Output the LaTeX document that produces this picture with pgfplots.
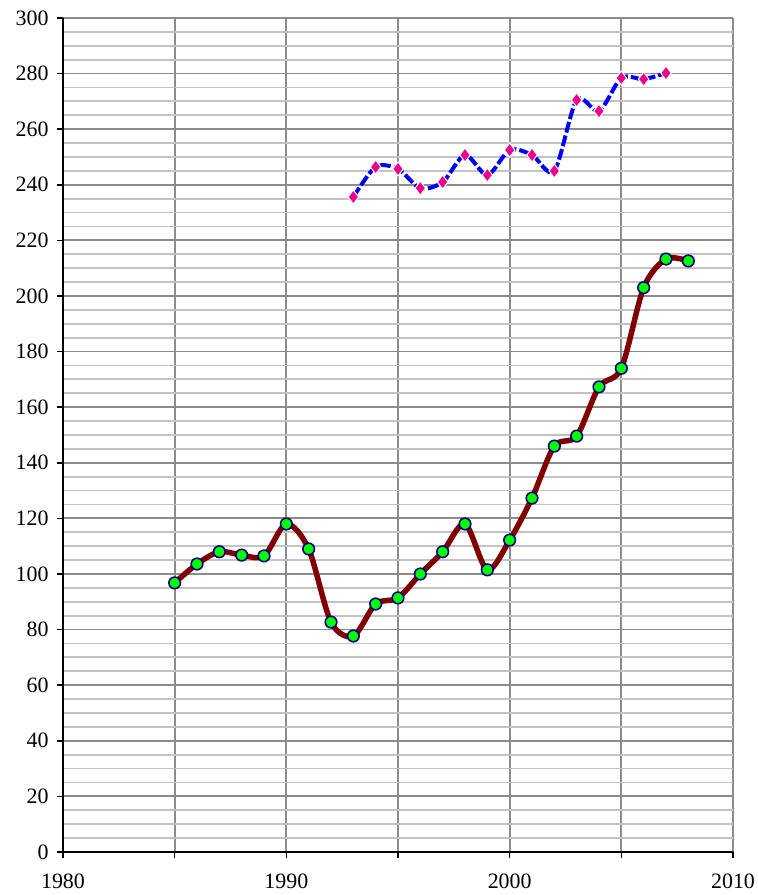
\documentclass[border=0pt]{standalone}
\usepackage{fontspec}
\setmainfont{Liberation Serif}
\usepackage{pgfplots}
\pgfplotsset{compat=1.18}
\definecolor{darkred}{RGB}{128,0,0}
\definecolor{navy}{RGB}{0,0,128}
\definecolor{majgrid}{RGB}{140,140,140}
\definecolor{mingrid}{RGB}{195,195,195}
\begin{document}
\begin{tikzpicture}[x=1bp,y=1bp]
\useasboundingbox (-63bp,-43bp) rectangle (695bp,852bp);
\begin{axis}[
  at={(0,0)}, anchor=south west,
  scale only axis, width=670bp, height=834bp,
  xmin=1980, xmax=2010, ymin=0, ymax=300,
  axis x line*=bottom, axis y line*=left,
  axis line style={black, line width=2bp, -},
  xtick={1980,1985,...,2010},
  xticklabels={1980,,1990,,2000,,2010},
  ytick={0,20,...,300},
  minor y tick num=3,
  tick align=outside,
  major tick length=6bp, minor tick length=0bp,
  tick style={black, line width=1.5bp},
  grid=both,
  major grid style={majgrid, line width=1.8bp},
  minor grid style={mingrid, line width=1.8bp},
  /pgf/number format/assume math mode=true,
  /pgf/number format/set thousands separator={},
  tick label style={font=\fontsize{22}{22}\selectfont},
  xticklabel style={yshift=-12bp},
  yticklabel style={xshift=-5bp},
  clip=false,
]
\addplot[color=darkred, line width=5.5bp, smooth, tension=0.5,
  mark=*, mark size=5.8bp,
  mark options={fill=green, draw=navy, line width=1.6bp}]
  coordinates {
  (1985,96.8) (1986,103.6) (1987,108) (1988,106.8) (1989,106.5)
  (1990,118) (1991,109) (1992,82.7) (1993,77.7) (1994,89.2)
  (1995,91.4) (1996,100) (1997,108) (1998,118) (1999,101.5)
  (2000,112.2) (2001,127.3) (2002,146) (2003,149.6) (2004,167.3)
  (2005,174) (2006,203) (2007,213.3) (2008,212.6)
  };
\addplot[color=blue, line width=4bp, smooth, tension=0.5,
  dash pattern=on 11bp off 3bp,
  mark=diamond*, mark size=7bp,
  mark options={solid, fill=magenta, draw=white, line width=1bp}]
  coordinates {
  (1993,235.6) (1994,246.4) (1995,245.7) (1996,238.8) (1997,241)
  (1998,250.7) (1999,243.5) (2000,252.5) (2001,250.7) (2002,245)
  (2003,270.5) (2004,266.5) (2005,278.4) (2006,278) (2007,280.2)
  };
\end{axis}
\end{tikzpicture}
\end{document}
